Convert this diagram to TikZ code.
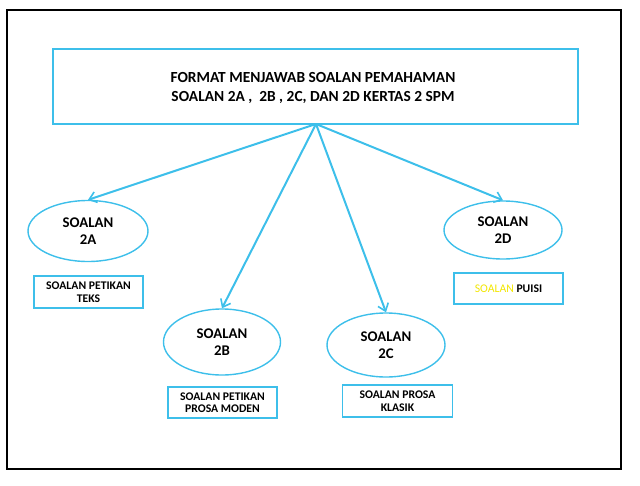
\documentclass[tikz,border=0pt]{standalone}
\usepackage{fontspec}
\setmainfont{Carlito}
\usetikzlibrary{shapes.geometric,arrows.meta}
\definecolor{sky}{HTML}{3DBFEA}
\definecolor{ylw}{HTML}{F2E600}
\tikzset{
  every node/.style={font=\bfseries},
  qell/.style={ellipse,draw=sky,line width=1.4pt,align=center,font=\bfseries\fontsize{14.8}{17.5}\selectfont},
  lbox/.style={draw=sky,line width=1.4pt,align=center,font=\bfseries\fontsize{11.7}{12.5}\selectfont},
  link/.style={sky,line width=2pt,-{Straight Barb[length=7pt,width=11pt,line width=1.6pt]}}
}
\begin{document}
\begin{tikzpicture}[x=1pt,y=-1pt]
\useasboundingbox (0,0) rectangle (640,485);
\draw[line width=1.5pt,black] (7,10) rectangle (621,469);
% title
\node[draw=sky,line width=1.4pt,minimum width=525pt,minimum height=75pt,inner sep=0pt] (title) at (315.5,86.5) {};
\node[align=center,font=\bfseries\fontsize{15.4}{19}\selectfont] (ttext) at (313,87.5) {FORMAT MENJAWAB SOALAN PEMAHAMAN\\SOALAN 2A ,\ \ 2B , 2C, DAN 2D KERTAS 2 SPM};
\coordinate (src) at (316,124);
% ellipses
\node[qell,minimum width=120pt,minimum height=61pt,inner sep=0pt] (e2a) at (88,231) {SOALAN\\2A};
\node[qell,minimum width=117pt,minimum height=66pt,inner sep=0pt] (e2b) at (222,342) {SOALAN\\2B};
\node[qell,minimum width=118pt,minimum height=64pt,inner sep=0pt] (e2c) at (386,345) {SOALAN\\2C};
\node[qell,minimum width=118pt,minimum height=58pt,inner sep=0pt] (e2d) at (503,230) {SOALAN\\2D};
% label boxes
\node[lbox,minimum width=109pt,minimum height=32pt,inner sep=0pt] (b2a) at (88.5,292) {SOALAN PETIKAN\\TEKS};
\node[lbox,minimum width=109pt,minimum height=31pt,inner sep=0pt] (b2b) at (222.5,402.5) {SOALAN PETIKAN\\PROSA MODEN};
\node[lbox,minimum width=110pt,minimum height=32pt,inner sep=0pt] (b2c) at (397.5,401) {SOALAN PROSA\\KLASIK};
\node[lbox,minimum width=109pt,minimum height=31pt,inner sep=0pt] (b2d) at (508.5,288.5) {\textcolor{ylw}{\mdseries SOALAN} PUISI};
% arrows
\draw[link] (src) -- (e2a.north);
\draw[link] (src) -- (e2b.north);
\draw[link] (src) -- (e2c.north);
\draw[link] (src) -- (e2d.north);
\end{tikzpicture}
\end{document}
